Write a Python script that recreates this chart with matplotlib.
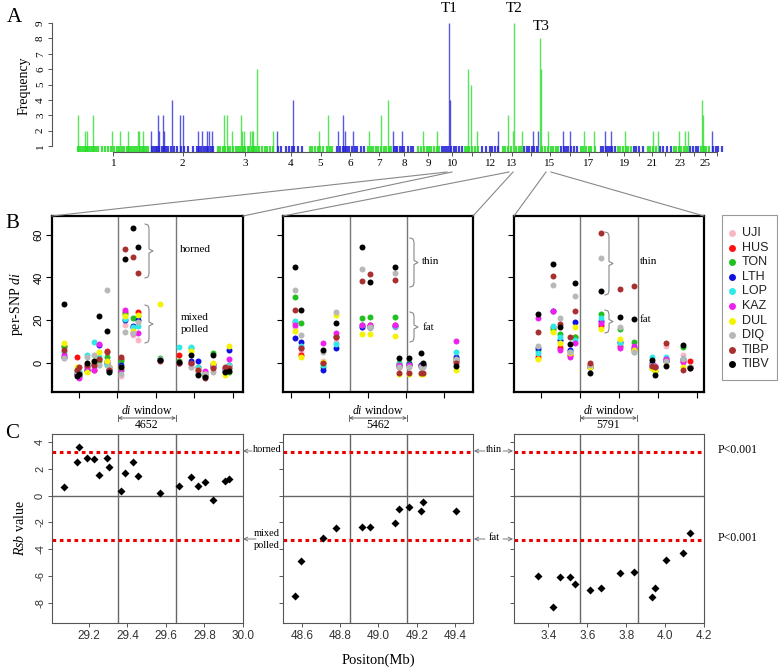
import numpy as np
import matplotlib
matplotlib.use('Agg')
import matplotlib.pyplot as plt

plt.rcParams['mathtext.fontset'] = 'custom'
plt.rcParams['mathtext.it'] = 'Liberation Serif:italic'
plt.rcParams['mathtext.rm'] = 'Liberation Serif'
SERIF = ['Liberation Serif', 'DejaVu Serif']
SANS = ['Liberation Sans', 'DejaVu Sans']

# ---------------- Panel A data ----------------
chrom_len = [275, 249, 224, 119, 108, 117, 100, 90, 94, 86, 62, 79, 83,
             62, 80, 71, 72, 68, 60, 51, 50, 50, 62, 42, 45, 44]
chrom_labels = ['1', '2', '3', '4', '5', '6', '7', '8', '9', '10', '', '12', '13',
                '', '15', '', '17', '', '19', '', '21', '', '23', '', '25', '']
peak_pos = [2, 30, 38, 61, 132, 163, 193, 231, 234, 250,
            280, 306, 310, 325, 329, 360, 390, 401, 458, 473, 492, 499, 511,
            556, 567, 586, 620, 624, 632, 654, 662, 666, 681, 741,
            756, 817, 915, 949, 987, 1006, 1013, 1044, 1104, 1150, 1176,
            1195, 1229, 1309, 1361, 1407, 1409, 1479, 1490, 1513, 1592,
            1630, 1649, 1653, 1683, 1725, 1743, 1751, 1755, 1781, 1838, 1864,
            1917, 1955, 1997, 2020, 2072, 2178, 2197, 2277, 2299, 2311,
            2364, 2368, 2402]
peak_freq = [3, 2, 2, 3, 2, 2, 2, 2, 2, 2,
             2, 3, 2, 3, 2, 4, 3, 3, 2, 2, 2, 2, 2,
             3, 3, 2, 3, 2, 2, 2, 2, 2, 6, 2,
             2, 4, 2, 3, 2, 3, 2, 2, 2, 3, 4,
             2, 2, 2, 2, 9, 4, 6, 5, 2, 2,
             3, 2, 9, 2, 2, 2, 8, 6, 2, 2, 2,
             2, 2, 2, 2, 2, 2, 2, 2, 2, 2,
             4, 3, 2]
one_pos = [5, 12, 18, 25, 33, 42, 48, 55, 66, 72, 80, 95, 105, 118, 128, 140, 150, 158,
           170, 178, 188, 198, 205, 212, 220, 228, 238, 245, 255, 262, 270,
           282, 290, 298, 304, 312, 320, 330, 338, 345, 355, 368, 378, 395, 405, 420,
           440, 452, 462, 470, 480, 488, 495, 505, 515,
           532, 540, 552, 560, 572, 580, 590, 600, 610, 618, 628, 636, 645, 652, 660,
           670, 678, 688, 700, 710, 720, 730, 740,
           760, 770, 790, 800, 812, 822, 835, 850,
           880, 890, 900, 912, 920, 930, 945, 955, 965,
           985, 995, 1005, 1012, 1020, 1030, 1040, 1050, 1060, 1075, 1085,
           1100, 1110, 1120, 1130, 1140, 1150, 1160, 1170, 1180, 1188,
           1198, 1205, 1212, 1220, 1228, 1235, 1252, 1262, 1272,
           1290, 1300, 1312, 1322, 1332, 1340, 1350, 1360, 1370,
           1380, 1388, 1395, 1402, 1415, 1425, 1435, 1445, 1455,
           1468, 1476, 1484, 1495, 1505, 1515,
           1530, 1545, 1560, 1570, 1580, 1592,
           1610, 1620, 1630, 1640, 1660, 1670, 1680,
           1692, 1700, 1710, 1720, 1730, 1740,
           1760, 1770, 1780, 1792, 1800, 1810, 1820,
           1832, 1840, 1850, 1858, 1870, 1880, 1890,
           1905, 1915, 1925, 1935, 1945, 1960,
           1980, 1990, 2000, 2008, 2015, 2025, 2035,
           2045, 2055, 2065, 2075, 2085, 2095,
           2105, 2115, 2125, 2140, 2160, 2168, 2178, 2190,
           2205, 2215, 2230, 2245, 2258, 2266, 2275, 2285, 2295, 2305,
           2318, 2328, 2340, 2350, 2360, 2372, 2380, 2390,
           2405, 2415, 2425, 2440]

# ---------------- Panels B / C data ----------------
breeds = ['UJI', 'HUS', 'TON', 'LTH', 'LOP', 'KAZ', 'DUL', 'DIQ', 'TIBP', 'TIBV']
breed_colors = ['#f7b8c4', '#ff1010', '#20c020', '#1010e0', '#30e8e8',
                '#ee20ee', '#f4f400', '#b8b8b8', '#a83030', '#000000']

pos1 = [29.072, 29.136, 29.150, 29.188, 29.228, 29.254, 29.292, 29.304, 29.366, 29.389,
        29.430, 29.456, 29.569, 29.669, 29.728, 29.765, 29.803, 29.843, 29.907, 29.929]
rsb1 = [0.62, 2.54, 3.61, 2.81, 2.71, 1.54, 2.81, 2.11, 0.32, 1.67,
        2.54, 1.44, 0.20, 0.70, 1.42, 0.72, 1.00, -0.32, 1.07, 1.24]
di1 = [[2.2, 8, 7.5, 3, 5, 4, 9.5, 2.5, 6, 27.7],
       [-4, 3, -3, -5, -4, -5, -2, -4, -3, -6],
       [-5, -4, -5, -6, -4, -7, -5, -5, -2, -5],
       [-1, -3, -2, -3, 4, -2, -4, 3, -1, 0],
       [-2, -3, 0, -1, 10, -3, 1, 4, -1, 1],
       [-1, 2, 1, 8.4, 3, 9, 5, -1, 2, 22],
       [-1, 5.5, 3, 0, -1, 1, 1, 34, 5, 15],
       [-3, -2, -3, -3, -4, -3, -2, -2, -3, -4],
       [-6, 2, 1, -1, -3, -3, -2, -5, 3, -2],
       [18, 24, 23, 20, 20.5, 25, 22, 14.5, 53.5, 48.5],
       [13, 17, 21, 17.5, 17, 14, 15, 14, 49.5, 63],
       [11, 24, 22, 20, 17.5, 14, 22.5, 19, 42, 54],
       [1.5, 1.5, 2.5, 1.5, 2, 1.5, 27.5, 2, 1, 1.5],
       [0, 4, 1, 0, 7.5, 0, 0.5, 0, 0, 0.5],
       [-2, 0, 7, 1, 7.5, -0.5, 5.5, -2, 0, 4],
       [-3, -2, -5, 1, -2, -3, -3, -4, -3, -5.5],
       [-5, -6, -6, -5, -4, -3.5, -5, -5, -7, -6.5],
       [-3, -1, 4.5, -2, -1, -0.5, 0, -4, -2.5, 4],
       [-3, -2.5, -4, -3, -3, -3, -5.5, -3, -2, -4],
       [-2, -1, -4, 6, -1, 2, 8, -2, -2.5, -3.5]]

pos2 = [48.563, 48.594, 48.711, 48.777, 48.915, 48.955, 49.089, 49.106, 49.160,
        49.225, 49.233, 49.404]
rsb2 = [-7.46, -4.90, -3.16, -2.41, -2.36, -2.31, -2.04, -1.00, -0.87, -1.12, -0.45, -1.17]
di2 = [[17, 19, 30.7, 11.5, 19.8, 18, 15, 34, 24.8, 45],
       [5, 3.7, 18.8, 9.8, 8, 7.2, 3, 13, 7, 25],
       [1, 0, -2, -3, -1, 9.5, 0.5, 5, 0, 6],
       [10, 12, 12.5, 6.9, 8.7, 13.9, 22.4, 24, 12.3, 18.8],
       [17, 18, 21, 17, 18, 17.6, 13.4, 43.8, 38.3, 54],
       [16.2, 18, 21.3, 17, 17, 18, 13.5, 17, 41.4, 38],
       [17, 18, 21.3, 17.5, 17.5, 18, 12.8, 41.9, 38.8, 45],
       [-1, -2, 0, -1, -0.5, -1, -5, -2, -4.4, 2.6],
       [-0.5, -1, 0, -0.5, -1, -1, -5, -2, -4.5, 2.6],
       [-1, -1.5, -1, -1, -2, -1.5, -5, -2, -4.5, 4.8],
       [-1, -1, -1, -1, -1.5, -1, -5, -2, -4.5, 0],
       [1, 1, 2, 3, 5.3, 10.3, -3, 2, 0, -1.4]]

pos3 = [3.347, 3.424, 3.462, 3.510, 3.539, 3.612, 3.671, 3.770, 3.839, 3.933,
        3.950, 4.007, 4.093, 4.127]
rsb3 = [-6.02, -8.28, -6.09, -6.09, -6.59, -7.04, -6.92, -5.77, -5.67, -7.54,
        -6.89, -4.78, -4.28, -2.79]
di3 = [[4, 3, 6, 6.9, 4.5, 20.9, 1.9, 8, 14.3, 22.7],
       [15, 17, 16, 24.5, 17.3, 24.5, 14.3, 36.4, 40.7, 46.4],
       [8, 7, 13.4, 11, 12, 6, 9.2, 20.9, 18.4, 16.7],
       [4, 4, 5, 6, 5, 3, 4.8, 5, 12.3, 8.7],
       [10, 12, 12, 19.3, 11, 9.2, 16.7, 31.5, 24.5, 37.2],
       [-1, -1, -2, -2, -2, -2, -2, -1, 0, -4.5],
       [17, 18, 22.7, 19.5, 21, 18.5, 15.9, 48.9, 60.6, 33.6],
       [9, 8, 15.7, 10, 9.2, 6.9, 11.2, 17, 34.6, 21.3],
       [6, 6, 10, 7, 5.3, 8, 6, 5, 36.1, 20.6],
       [-1, -1.5, -2.5, 0, 3, -1, -2.5, -1, -1.5, 1.4],
       [-2, -2, -3.5, -2, -2, -1.5, -3, -2, -2, -5.6],
       [8, 2, 1, 1, 3, 2, -1, 1, 9.2, -1.2],
       [4, 1, 7.3, 2, 2, 0.5, -2, 2, -3, 8.4],
       [-2, 1, -2, -2, -2, -2, -2, -2, -2.5, -2.5]]

windows = [(29.351, 29.652), (48.852, 49.148), (3.563, 3.860)]
window_sizes = ['4652', '5462', '5791']
xlims = [(29.008, 30.0), (48.502, 49.494), (3.2236, 4.2)]
cticks = [[29.2, 29.4, 29.6, 29.8, 30.0], [48.6, 48.8, 49.0, 49.2, 49.4],
          [3.4, 3.6, 3.8, 4.0, 4.2]]
btick_shift = [0.052, 0.056, 0.036]
rsb_threshold = 3.28

# ---------------- figure ----------------
W, H = 778, 668
fig = plt.figure(figsize=(W / 100, H / 100), dpi=100)


def rect(l, t, r, b):
    return [l / W, 1 - b / H, (r - l) / W, (b - t) / H]


# ---- Panel A ----
axA = fig.add_axes(rect(52, 20, 730, 152))
ends = np.cumsum(chrom_len)
starts = ends - np.array(chrom_len)
mids = (starts + ends) / 2.0


def chrom_color(p):
    idx = int(np.searchsorted(ends, p, side='right'))
    return '#22dd22' if idx % 2 == 0 else '#2020d8'


axA.vlines(one_pos, 0.61, 1, colors=[chrom_color(p) for p in one_pos], lw=1.6, alpha=0.85)
axA.vlines(peak_pos, 0.61, peak_freq, colors=[chrom_color(p) for p in peak_pos],
           lw=1.0, alpha=0.75)
axA.set_xlim(-94.5, 2469.5)
axA.set_ylim(0.61, 9.2)
for s in ['top', 'right']:
    axA.spines[s].set_visible(False)
axA.spines['left'].set_bounds(1, 9)
axA.spines['bottom'].set_bounds(mids[0], mids[-1])
for s in ['left', 'bottom']:
    axA.spines[s].set_color('#555555')
    axA.spines[s].set_linewidth(0.8)
axA.set_yticks(range(1, 10))
axA.set_yticklabels([str(i) for i in range(1, 10)], rotation=90, va='center',
                    family=SERIF, fontsize=8)
axA.set_xticks(mids)
axA.set_xticklabels(chrom_labels, family=SERIF, fontsize=8)
axA.tick_params(axis='both', length=3, width=0.7, color='#555555', pad=2)
axA.set_ylabel('Frequency', family=SERIF, fontsize=10, labelpad=4)

# ---- Panels B and C ----
bx = [(52, 243), (283, 473), (514, 704)]
pos_all = [pos1, pos2, pos3]
rsb_all = [rsb1, rsb2, rsb3]
di_all = [di1, di2, di3]
for k in range(3):
    l, r = bx[k]
    axB = fig.add_axes(rect(l, 216, r, 392))
    vals = np.array(di_all[k])
    for w in windows[k]:
        axB.axvline(w, color='#777777', lw=1.0, zorder=1)
    for j in range(len(breeds)):
        axB.plot(pos_all[k], vals[:, j], 'o', ms=4.3, color=breed_colors[j],
                 mec='none', zorder=3)
    axB.set_xlim(*xlims[k])
    axB.set_ylim(-13.5, 68.7)
    for s in axB.spines.values():
        s.set_linewidth(1.6)
    axB.set_xticks([t - btick_shift[k] for t in cticks[k]])
    axB.set_xticklabels([])
    axB.set_yticks([0, 20, 40, 60])
    if k == 0:
        axB.set_yticklabels(['0', '20', '40', '60'], rotation=90, va='center',
                            family=SANS, fontsize=8)
        axB.set_ylabel('per-SNP $\\mathit{di}$', family=SERIF, fontsize=10, labelpad=6)
    else:
        axB.set_yticklabels([])
    axB.tick_params(length=4, width=0.8, pad=2)

    axC = fig.add_axes(rect(l, 434, r, 623))
    axC.axhline(0, color='#666666', lw=1.0, zorder=1)
    for w in windows[k]:
        axC.axvline(w, color='#666666', lw=1.0, zorder=1)
    for t in (rsb_threshold, -rsb_threshold):
        axC.axhline(t, color='#ee0000', lw=2.2, ls=(0, (1.2, 1.2)), zorder=2)
    axC.plot(pos_all[k], rsb_all[k], 'D', ms=4.2, color='black', mec='none', zorder=3)
    axC.set_xlim(*xlims[k])
    axC.set_ylim(-9.5, 4.6)
    for s in axC.spines.values():
        s.set_linewidth(0.8)
        s.set_color('#555555')
    axC.set_xticks(cticks[k])
    axC.set_xticklabels(['%.1f' % t for t in cticks[k]], family=SANS, fontsize=8.5,
                        color='#333333')
    axC.set_yticks([-8, -6, -4, -2, 0, 2, 4])
    if k == 0:
        axC.set_yticklabels(['-8', '-6', '-4', '-2', '0', '2', '4'], rotation=90,
                            va='center', family=SANS, fontsize=8, color='#333333')
        axC.set_ylabel('$\\mathit{Rsb}$ value', family=SERIF, fontsize=10, labelpad=6)
    else:
        axC.set_yticklabels([])
    axC.tick_params(length=3, width=0.7, color='#555555', pad=2)

# ---- overlay for annotations (pixel coordinates) ----
ov = fig.add_axes([0, 0, 1, 1], zorder=10)
ov.set_xlim(0, W)
ov.set_ylim(H, 0)
ov.axis('off')
ov.patch.set_alpha(0)

for letter, x, y in [('A', 14, 18), ('B', 12, 224), ('C', 12, 434)]:
    ov.text(x, y, letter, family=SERIF, fontsize=15, ha='center', va='center')

for lab, x, y in [('T1', 449, 8), ('T2', 514, 8), ('T3', 541, 27)]:
    ov.text(x, y, lab, family=SERIF, fontsize=11, ha='center', va='center')

# connector lines from panel A to panel B
conn = [((447, 172), (52, 216)), ((452, 172), (243, 216)),
        ((509, 172), (283, 216)), ((513, 172), (473, 216)),
        ((546, 172), (514, 216)), ((551, 172), (704, 216))]
for (x0, y0), (x1, y1) in conn:
    ov.plot([x0, x1], [y0, y1], color='#888888', lw=0.8)


def brace(x, y0, y1, w=4):
    ym = (y0 + y1) / 2
    xs = [x - w, x - 1, x, x, x + w, x, x, x - 1, x - w]
    ys = [y0, y0 + 1, y0 + w, ym - 2, ym, ym + 2, y1 - w, y1 - 1, y1]
    ov.plot(xs, ys, color='#888888', lw=0.8)


brace(149, 224, 278)
brace(149, 305, 343)
brace(414, 238, 287)
brace(414, 312, 342)
brace(609, 232, 295)
brace(609, 310, 333)
small = dict(family=SERIF, fontsize=8, va='center', ha='left')
ov.text(180, 249, 'horned', **small)
ov.text(181, 318, 'mixed', **small)
ov.text(181, 330, 'polled', **small)
ov.text(422, 262, 'thin', **small)
ov.text(423, 327, 'fat', **small)
ov.text(640, 262, 'thin', **small)
ov.text(640, 320, 'fat', **small)

# di window arrows
win_px = [(118, 176), (349, 407), (580, 637)]
for (x0, x1), size in zip(win_px, window_sizes):
    xm = (x0 + x1) / 2
    ov.text(xm, 410, '$\\mathit{di}$ window', family=SERIF, fontsize=8.5,
            ha='center', va='center')
    ov.annotate('', xy=(x0, 418), xytext=(x1, 418),
                arrowprops=dict(arrowstyle='<->', color='#666666', lw=0.7,
                                shrinkA=0, shrinkB=0, mutation_scale=5))
    ov.plot([x0, x0], [415, 421], color='#666666', lw=0.7)
    ov.plot([x1, x1], [415, 421], color='#666666', lw=0.7)
    ov.text(xm, 425, size, family=SERIF, fontsize=8.5, ha='center', va='center')

# panel C side labels
arr = dict(arrowstyle='->', color='#666666', lw=0.6, shrinkA=0, shrinkB=0,
           mutation_scale=7)
ov.annotate('', xy=(243, 451), xytext=(252, 451), arrowprops=arr)
ov.text(253, 449, 'horned', family=SERIF, fontsize=7.5, ha='left', va='center')
ov.annotate('', xy=(243, 539), xytext=(256, 539), arrowprops=arr)
ov.text(280, 534, 'mixed', family=SERIF, fontsize=7.5, ha='right', va='center')
ov.text(280, 546, 'polled', family=SERIF, fontsize=7.5, ha='right', va='center')
for y, lab in [(451, 'thin'), (539, 'fat')]:
    ov.annotate('', xy=(474, y), xytext=(485, y), arrowprops=arr)
    ov.text(494, y - 1, lab, family=SERIF, fontsize=7.5, ha='center', va='center')
    ov.annotate('', xy=(513, y), xytext=(503, y), arrowprops=arr)
    ov.text(738, y - 1, 'P<0.001', family=SERIF, fontsize=8.5, ha='center', va='center')

ov.text(378, 660, 'Positon(Mb)', family=SERIF, fontsize=10.5, ha='center', va='center')

# legend
ov.add_patch(plt.Rectangle((722, 215), 55, 165, fill=False, ec='#999999', lw=0.8))
for i, (b, c) in enumerate(zip(breeds, breed_colors)):
    y = 233 + i * 14.6
    ov.plot([732], [y], 'o', ms=5, color=c, mec='none')
    ov.text(742, y, b, family=SANS, fontsize=9, ha='left', va='center', color='#222222')

fig.savefig('out.png', dpi=100)
